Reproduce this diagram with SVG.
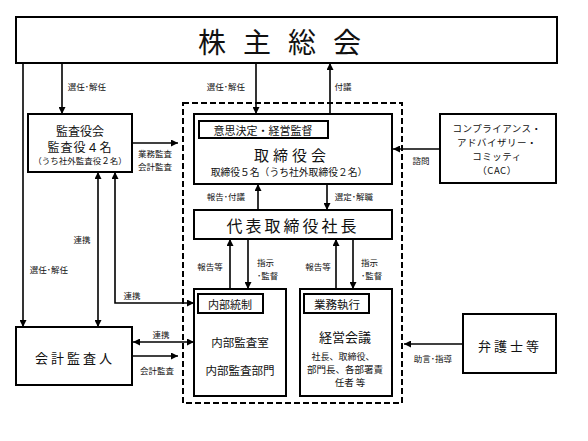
<svg xmlns="http://www.w3.org/2000/svg" width="588" height="441" viewBox="0 0 588 441">
<defs>
<marker id="ah" viewBox="0 0 8 8" refX="8" refY="4" markerWidth="7" markerHeight="7" markerUnits="userSpaceOnUse" orient="auto-start-reverse">
<path d="M0,0 L8,4 L0,8 Z" fill="#000"/>
</marker>
</defs>
<style>
text{font-family:"Noto Sans CJK JP","Noto Sans",sans-serif;fill:#111;dominant-baseline:central;text-anchor:middle}
.box{fill:#fff;stroke:#000;stroke-width:2}
.lbl{font-size:8.5px}
.ln{fill:none;stroke:#000;stroke-width:1.6}
.ar{marker-end:url(#ah)}
.ar2{marker-start:url(#ah);marker-end:url(#ah)}
.cac{font-size:9.5px;letter-spacing:0.5px}
</style>
<rect width="588" height="441" fill="#fff"/>

<g id="dashed-frame">
<rect x="183" y="103" width="219" height="300" fill="none" stroke="#000" stroke-width="2" stroke-dasharray="6,3"/>
</g>

<g id="shareholders">
<rect class="box" x="16" y="17" width="541" height="46"/>
<text x="288" y="41" font-size="28" letter-spacing="17">株主総会</text>
</g>

<g id="audit-board">
<rect class="box" x="28" y="114" width="104" height="58"/>
<text x="80" y="130" font-size="12">監査役会</text>
<text x="80" y="146" font-size="12" letter-spacing="1">監査役４名</text>
<text x="80" y="160" font-size="8.5">（うち社外監査役２名）</text>
</g>

<g id="board">
<rect class="box" x="194" y="114" width="198" height="70"/>
<rect class="box" x="199" y="121" width="129" height="17"/>
<text x="263" y="130" font-size="11">意思決定・経営監督</text>
<text x="292" y="154" font-size="15" letter-spacing="4">取締役会</text>
<text x="289" y="172" font-size="9.8">取締役５名（うち社外取締役２名）</text>
</g>

<g id="cac">
<rect class="box" x="440" y="114" width="116" height="69"/>
<text class="cac" x="497" y="128">コンプライアンス・</text>
<text class="cac" x="497" y="142">アドバイザリー・</text>
<text class="cac" x="497" y="156">コミッティ</text>
<text class="cac" x="497" y="170">（CAC）</text>
</g>

<g id="president">
<rect class="box" x="194" y="210" width="198" height="29"/>
<text x="293" y="225" font-size="16" letter-spacing="3">代表取締役社長</text>
</g>

<g id="internal-control">
<rect class="box" x="194" y="289" width="92" height="107"/>
<rect class="box" x="198" y="294" width="65" height="19"/>
<text x="230" y="304" font-size="11">内部統制</text>
<text x="240" y="342" font-size="11.5">内部監査室</text>
<text x="240" y="370" font-size="11.5">内部監査部門</text>
</g>

<g id="execution">
<rect class="box" x="300" y="289" width="92" height="107"/>
<rect class="box" x="304" y="294" width="65" height="19"/>
<text x="337" y="304" font-size="11.5">業務執行</text>
<text x="345" y="336" font-size="13">経営会議</text>
<text x="343" y="356" font-size="9">社長、取締役、</text>
<text x="345" y="369" font-size="9.5">部門長、各部署責</text>
<text x="350" y="382" font-size="9.5">任者 等</text>
</g>

<g id="accounting-auditor">
<rect class="box" x="16" y="327" width="116" height="58"/>
<text x="75" y="357" font-size="13" letter-spacing="3">会計監査人</text>
</g>

<g id="lawyers">
<rect class="box" x="463" y="314" width="93" height="59"/>
<text x="510" y="345" font-size="13" letter-spacing="3">弁護士等</text>
</g>

<g id="connectors">
<path class="ln ar" d="M62,63 V114"/>
<path class="ln ar" d="M256,63 V114"/>
<path class="ln ar" d="M330,114 V63"/>
<path class="ln ar" d="M23,63 V327"/>
<path class="ln ar" d="M132,143 H178"/>
<path class="ln ar" d="M440,149 H393"/>
<path class="ln ar" d="M327,184 V210"/>
<path class="ln ar" d="M258,210 V184"/>
<path class="ln ar" d="M230,289 V239"/>
<path class="ln ar" d="M248,239 V289"/>
<path class="ln ar" d="M336,289 V239"/>
<path class="ln ar" d="M353,239 V289"/>
<path class="ln ar2" d="M98,172 V327"/>
<path class="ln ar2" d="M115,172 V303 H194"/>
<path class="ln ar2" d="M133,342 H194"/>
<path class="ln ar" d="M132,356 H178"/>
<path class="ln ar" d="M463,344 H404"/>
</g>

<g id="labels">
<text class="lbl" x="87" y="86">選任･解任</text>
<text class="lbl" x="226" y="86">選任･解任</text>
<text class="lbl" x="343" y="86">付議</text>
<text class="lbl" x="155" y="153">業務監査</text>
<text class="lbl" x="155" y="166">会計監査</text>
<text class="lbl" x="421" y="160">諮問</text>
<text class="lbl" x="226" y="196">報告･付議</text>
<text class="lbl" x="354" y="196">選定･解職</text>
<text class="lbl" x="210" y="266">報告等</text>
<text class="lbl" x="257" y="262" style="text-anchor:start">指示</text>
<text class="lbl" x="257" y="275" style="text-anchor:start">･監督</text>
<text class="lbl" x="318" y="266">報告等</text>
<text class="lbl" x="361" y="262" style="text-anchor:start">指示</text>
<text class="lbl" x="361" y="275" style="text-anchor:start">･監督</text>
<text class="lbl" x="82" y="239">連携</text>
<text class="lbl" x="49" y="269">選任･解任</text>
<text class="lbl" x="132" y="295">連携</text>
<text class="lbl" x="161" y="334">連携</text>
<text class="lbl" x="157" y="370">会計監査</text>
<text class="lbl" x="433" y="358">助言･指導</text>
</g>
</svg>
